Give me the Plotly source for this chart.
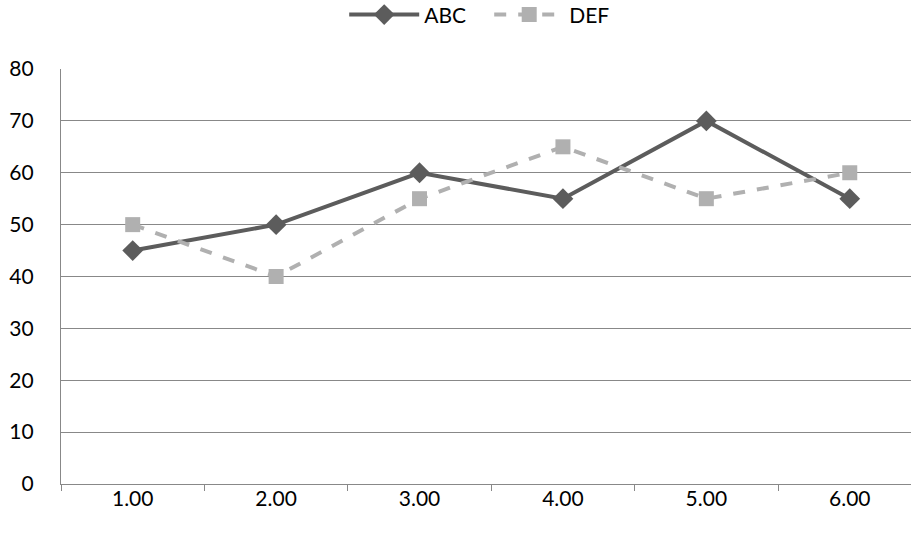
import plotly.graph_objects as go

categories = [1, 2, 3, 4, 5, 6]
tick_labels = ["1.00", "2.00", "3.00", "4.00", "5.00", "6.00"]
abc = [45, 50, 60, 55, 70, 55]
defv = [50, 40, 55, 65, 55, 60]

font_family = "Lato, 'Open Sans', sans-serif"

fig = go.Figure()
fig.add_trace(go.Scatter(
    x=categories, y=abc, name="ABC", mode="lines+markers",
    line=dict(color="#5c5c5c", width=4),
    marker=dict(symbol="diamond", size=16, color="#5c5c5c"),
))
fig.add_trace(go.Scatter(
    x=categories, y=defv, name="DEF", mode="lines+markers",
    line=dict(color="#b0b0b0", width=4, dash="dash"),
    marker=dict(symbol="square", size=15, color="#b0b0b0"),
))

fig.update_layout(
    width=911, height=533,
    margin=dict(l=61, r=0, t=69, b=49),
    paper_bgcolor="white", plot_bgcolor="white",
    font=dict(family=font_family, size=21, color="#000000"),
    showlegend=True,
    legend=dict(
        orientation="h", xref="container", yref="container",
        x=0.537, y=0.972, xanchor="center", yanchor="middle",
        itemwidth=70, entrywidth=60, font=dict(size=21), bgcolor="rgba(0,0,0,0)",
    ),
    xaxis=dict(
        range=[0.5, 6.427], tickvals=categories, ticktext=tick_labels,
        ticks="", showgrid=False, zeroline=False,
        showline=True, linecolor="#888888", linewidth=1.3,
        minor=dict(ticks="outside", ticklen=6, tickcolor="#888888",
                   tick0=0.5, dtick=1, showgrid=False),
        ticklabelstandoff=-4,
    ),
    yaxis=dict(
        range=[0, 80], dtick=10, showgrid=True, gridcolor="#888888", gridwidth=1.3,
        zeroline=False, showline=True, linecolor="#888888", linewidth=1.3,
        ticks="", ticklabelstandoff=22,
    ),
)

fig.write_html("out.html", config={"displayModeBar": False},
               post_script="document.body.style.margin='0';document.body.style.padding='0';")
